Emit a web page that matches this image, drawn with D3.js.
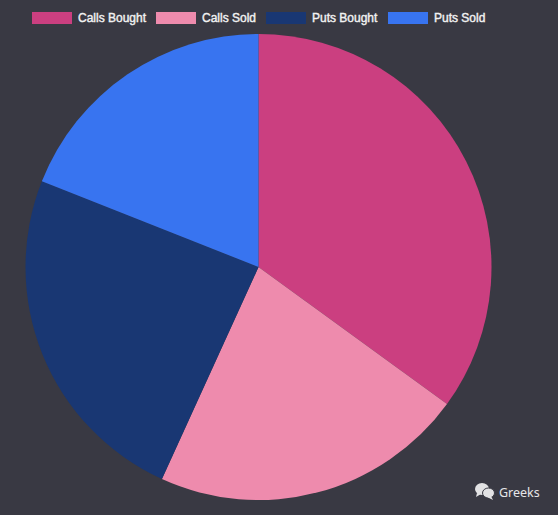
<!DOCTYPE html>
<html>
<head>
<meta charset="utf-8">
<script src="https://cdn.jsdelivr.net/npm/d3@7/dist/d3.min.js"></script>
<style>html,body{margin:0;padding:0;background:#393943;overflow:hidden}svg{display:block}</style>
</head>
<body>
<script>
const categories = ["Calls Bought", "Calls Sold", "Puts Bought", "Puts Sold"];
const seriesValues = [35, 21.8, 24.2, 19];
const colors = ["#cb3f80", "#ee8bad", "#193773", "#3874f0"];
const legendX = [32, 156, 266, 388];
const watermark = "Greeks";

const W = 558, H = 515, cx = 258.5, cy = 267, R = 233;
const svg = d3.select("body").append("svg").attr("width", W).attr("height", H);
svg.append("rect").attr("width", W).attr("height", H).attr("fill", "#393943");

const pie = d3.pie().sort(null).value(d => d);
const arc = d3.arc().innerRadius(0).outerRadius(R);
svg.append("g").attr("transform", `translate(${cx},${cy})`)
  .selectAll("path").data(pie(seriesValues)).join("path")
  .attr("d", arc).attr("fill", (d, i) => colors[i]);

const legend = svg.append("g").selectAll("g").data(categories).join("g")
  .attr("transform", (d, i) => `translate(${legendX[i]},12)`);
legend.append("rect").attr("width", 40).attr("height", 12).attr("fill", (d, i) => colors[i]);
legend.append("text").attr("x", 46).attr("y", 9.5)
  .attr("font-family", "Liberation Sans, Arial, sans-serif").attr("font-size", 12)
  .attr("font-weight", 400).attr("fill", "#f2f2f2")
  .attr("stroke", "#f2f2f2").attr("stroke-width", 0.4).text(d => d);

const ic = svg.append("g").attr("fill", "#e2e2e4");
ic.append("ellipse").attr("cx", 482).attr("cy", 489).attr("rx", 7).attr("ry", 6);
ic.append("path").attr("d", "M477 493 L476 497 L481 494 Z");
ic.append("ellipse").attr("cx", 488.5).attr("cy", 493).attr("rx", 6).attr("ry", 5).attr("stroke", "#393943").attr("stroke-width", 1);
ic.append("path").attr("d", "M491 496 L493 500 L487 497 Z");
svg.append("text").attr("x", 499).attr("y", 496.5)
  .attr("font-family", "Noto Sans, Open Sans, sans-serif").attr("font-size", 12.5)
  .attr("fill", "#e6e6e8").text(watermark);
</script>
</body>
</html>
